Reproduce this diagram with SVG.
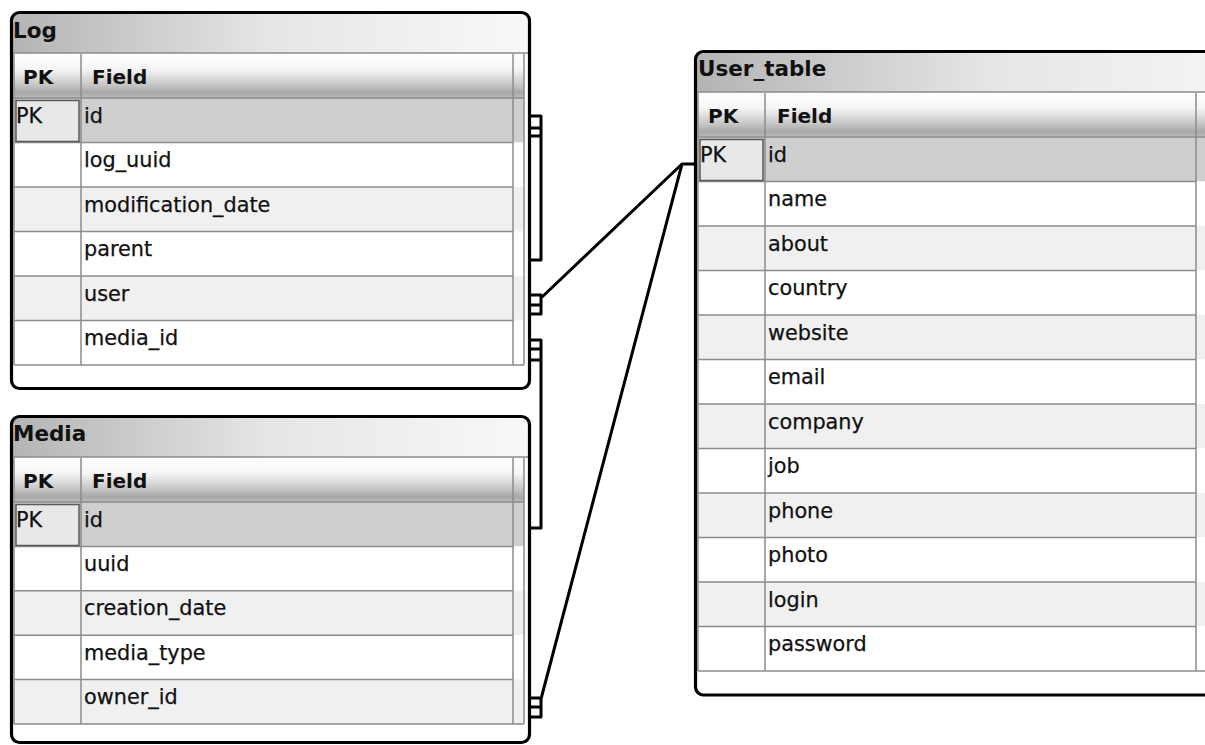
<svg xmlns="http://www.w3.org/2000/svg" width="1205" height="745" viewBox="0 0 1205 745">
<defs>
<linearGradient id="tg" x1="0" y1="0" x2="1" y2="0">
<stop offset="0" stop-color="#b4b4b4"/><stop offset="0.5" stop-color="#e6e6e6"/><stop offset="1" stop-color="#f8f8f8"/>
</linearGradient>
<linearGradient id="hg" x1="0" y1="0" x2="0" y2="1">
<stop offset="0" stop-color="#ffffff"/><stop offset="0.35" stop-color="#f5f5f5"/><stop offset="0.7" stop-color="#c6c6c6"/><stop offset="0.88" stop-color="#a8a8a8"/><stop offset="1" stop-color="#bcbcbc"/>
</linearGradient>
</defs>
<style>
.frame{fill:none;stroke:#000;stroke-width:3.2}
.bg{fill:#fff}
.title{font-family:"DejaVu Sans",sans-serif;font-weight:bold;font-size:21.5px;fill:#111}
.hd{font-family:"DejaVu Sans",sans-serif;font-weight:bold;font-size:20px;fill:#111}
.tx{font-family:"DejaVu Sans",sans-serif;font-size:20.8px;fill:#111;stroke:#111;stroke-width:0.25}
.grid{stroke:#8c8c8c;stroke-width:1.5;fill:none}
.r0{fill:#ffffff}.r1{fill:#f0f0f0}.rk{fill:#cfcfcf}
.pk{fill:#e8e8e8;stroke:#5a5a5a;stroke-width:1.5}
.conn{fill:none;stroke:#000;stroke-width:3;stroke-linejoin:round}
</style>
<rect width="1205" height="745" fill="#fff"/>

<g id="log">
<rect class="bg" x="11.5" y="12.5" width="518" height="376" rx="8"/>
<path d="M13,53 V21 Q13,14 20,14 H521 Q528,14 528,21 V53 Z" fill="url(#tg)"/>
<rect x="14" y="54" width="510" height="44" fill="url(#hg)"/>
<rect class="rk" x="14" y="98" width="510" height="44.5"/>
<rect class="r0" x="14" y="142.5" width="510" height="44.5"/>
<rect class="r1" x="14" y="187" width="510" height="44.5"/>
<rect class="r0" x="14" y="231.5" width="510" height="44.5"/>
<rect class="r1" x="14" y="276" width="510" height="44.5"/>
<rect class="r0" x="14" y="320.5" width="510" height="44.5"/>
<path class="grid" d="M13,53 H528 M14,54 V365 M81,54 V365 M513,54 V365 M524,54 V365 M14,98 H524 M14,142.5 H513 M14,187 H513 M14,231.5 H513 M14,276 H513 M14,320.5 H513 M14,365 H524"/>
<rect class="pk" x="16" y="100.5" width="63" height="41"/>
<text class="title" x="13" y="38">Log</text>
<text class="hd" x="23" y="84">PK</text>
<text class="hd" x="92" y="84">Field</text>
<text class="tx" x="16" y="122.5">PK</text>
<text class="tx" x="84" y="122.5">id</text>
<text class="tx" x="84" y="167">log_uuid</text>
<text class="tx" x="84" y="211.5">modification_date</text>
<text class="tx" x="84" y="256">parent</text>
<text class="tx" x="84" y="300.5">user</text>
<text class="tx" x="84" y="345">media_id</text>
<rect class="frame" x="11.5" y="12.5" width="518" height="376" rx="8"/>
</g>

<g id="media">
<rect class="bg" x="11.5" y="416.5" width="518" height="326" rx="8"/>
<path d="M13,457 V425 Q13,418 20,418 H521 Q528,418 528,425 V457 Z" fill="url(#tg)"/>
<rect x="14" y="458" width="510" height="44" fill="url(#hg)"/>
<rect class="rk" x="14" y="502" width="510" height="44.4"/>
<rect class="r0" x="14" y="546.4" width="510" height="44.4"/>
<rect class="r1" x="14" y="590.8" width="510" height="44.4"/>
<rect class="r0" x="14" y="635.2" width="510" height="44.4"/>
<rect class="r1" x="14" y="679.6" width="510" height="44.4"/>
<path class="grid" d="M13,457 H528 M14,458 V724 M81,458 V724 M513,458 V724 M524,458 V724 M14,502 H524 M14,546.4 H513 M14,590.8 H513 M14,635.2 H513 M14,679.6 H513 M14,724 H524"/>
<rect class="pk" x="16" y="504.5" width="63" height="41"/>
<text class="title" x="13" y="441">Media</text>
<text class="hd" x="23" y="488">PK</text>
<text class="hd" x="92" y="488">Field</text>
<text class="tx" x="16" y="526.5">PK</text>
<text class="tx" x="84" y="526.5">id</text>
<text class="tx" x="84" y="571">uuid</text>
<text class="tx" x="84" y="615.3">creation_date</text>
<text class="tx" x="84" y="659.7">media_type</text>
<text class="tx" x="84" y="704.1">owner_id</text>
<rect class="frame" x="11.5" y="416.5" width="518" height="326" rx="8"/>
</g>

<g id="user_table">
<rect class="bg" x="695.5" y="51.5" width="600" height="643.5" rx="8"/>
<path d="M697,92 V60 Q697,53 704,53 H1290 V92 Z" fill="url(#tg)"/>
<rect x="698" y="93" width="520" height="44" fill="url(#hg)"/>
<rect class="rk" x="698" y="137" width="520" height="44.5"/>
<rect class="r0" x="698" y="181.5" width="520" height="44.5"/>
<rect class="r1" x="698" y="226" width="520" height="44.5"/>
<rect class="r0" x="698" y="270.5" width="520" height="44.5"/>
<rect class="r1" x="698" y="315" width="520" height="44.5"/>
<rect class="r0" x="698" y="359.5" width="520" height="44.5"/>
<rect class="r1" x="698" y="404" width="520" height="44.5"/>
<rect class="r0" x="698" y="448.5" width="520" height="44.5"/>
<rect class="r1" x="698" y="493" width="520" height="44.5"/>
<rect class="r0" x="698" y="537.5" width="520" height="44.5"/>
<rect class="r1" x="698" y="582" width="520" height="44.5"/>
<rect class="r0" x="698" y="626.5" width="520" height="44.5"/>
<path class="grid" d="M697,92 H1210 M698,93 V671 M765,93 V671 M1196,93 V671 M698,137 H1210 M698,181.5 H1196 M698,226 H1196 M698,270.5 H1196 M698,315 H1196 M698,359.5 H1196 M698,404 H1196 M698,448.5 H1196 M698,493 H1196 M698,537.5 H1196 M698,582 H1196 M698,626.5 H1196 M698,671 H1210"/>
<rect class="pk" x="700" y="139.5" width="63" height="41"/>
<text class="title" x="698" y="76">User_table</text>
<text class="hd" x="708" y="123">PK</text>
<text class="hd" x="777" y="123">Field</text>
<text class="tx" x="700" y="161.5">PK</text>
<text class="tx" x="768" y="161.5">id</text>
<text class="tx" x="768" y="206">name</text>
<text class="tx" x="768" y="250.5">about</text>
<text class="tx" x="768" y="295">country</text>
<text class="tx" x="768" y="339.5">website</text>
<text class="tx" x="768" y="384">email</text>
<text class="tx" x="768" y="428.5">company</text>
<text class="tx" x="768" y="473">job</text>
<text class="tx" x="768" y="517.5">phone</text>
<text class="tx" x="768" y="562">photo</text>
<text class="tx" x="768" y="606.5">login</text>
<text class="tx" x="768" y="651">password</text>
<rect class="frame" x="695.5" y="51.5" width="600" height="643.5" rx="8"/>
</g>

<g id="connectors">
<path class="conn" d="M530,116 H541 V260 H530 M530,128 H541 M530,136 H541"/>
<path class="conn" d="M530,295 H541 V314 H530 M530,305 H541 M541,298 L682,164 H695"/>
<path class="conn" d="M530,340 H541 V528 H530 M530,349 H541 M530,360 H541"/>
<path class="conn" d="M531,698 H541 V717 H531 M531,707 H541 M541,699 L682,164"/>
</g>
</svg>
